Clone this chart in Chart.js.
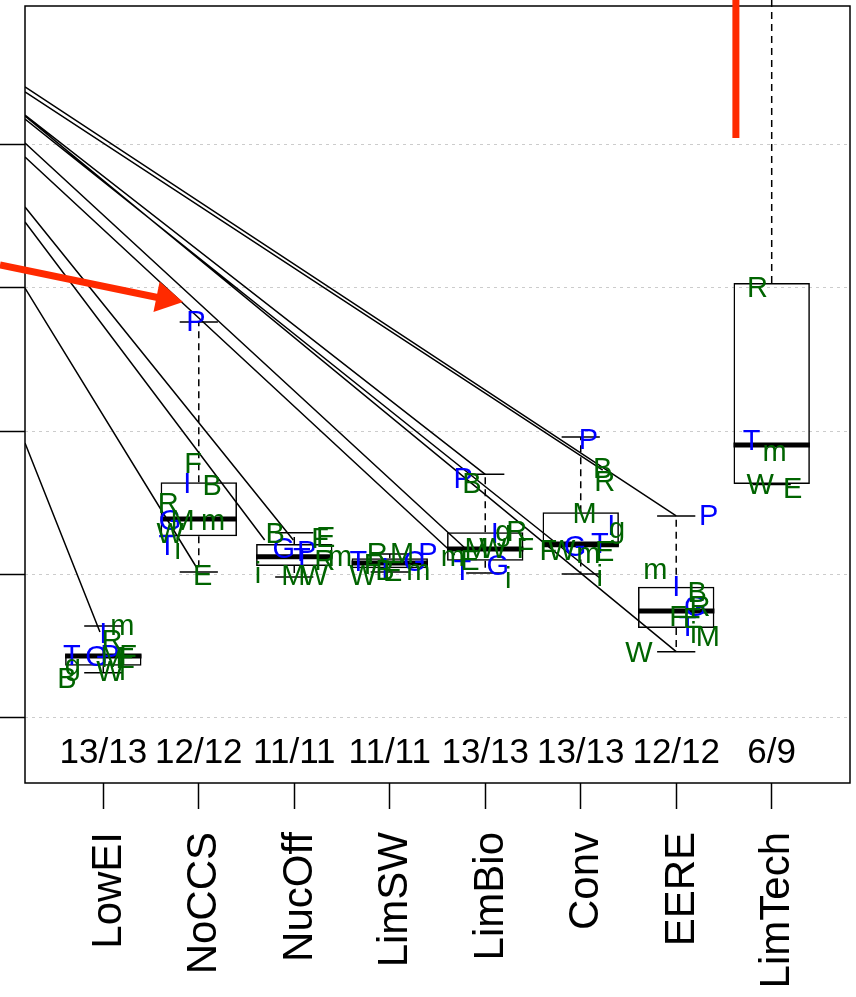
<!DOCTYPE html>
<html><head><meta charset="utf-8">
<script src="https://cdn.jsdelivr.net/npm/chart.js@4/dist/chart.umd.min.js"></script>
<style>html,body{margin:0;padding:0;background:#fff}#wrap{width:856px;height:997px;position:relative}</style>
</head><body><div id="wrap"><canvas id="c" width="856" height="997"></canvas></div>
<script>
// ---------- data ----------
const categories = ['LowEI','NoCCS','NucOff','LimSW','LimBio','Conv','EERE','LimTech'];
const counts = ['13/13','12/12','11/11','11/11','13/13','13/13','12/12','6/9'];
const gridValues = [0, 10, 20, 30, 40];
const lowerWhisker = [3.10, 10.14, 9.79, 10.14, 10.07, 10.00, 4.57, 16.26];
const q1 =           [3.59, 12.64, 10.56, 10.40, 10.93, 11.85, 6.22, 16.29];
const medians =      [4.27, 13.85, 11.21, 10.77, 11.75, 12.10, 7.41, 19.02];
const q3 =           [4.38, 16.41, 12.10, 11.10, 12.92, 14.31, 9.11, 30.35];
const upperWhisker = [6.36, 27.62, 12.89, 11.40, 16.97, 19.58, 14.06, 52.0];

// model letters: [char, category index (1-based), offset from category, value, blue?]
const modelLetters = [
  ['m',1,0.20,6.29,0],['I',1,0.00,5.73,1],['R',1,0.09,5.24,0],['T',1,-0.33,4.20,1],['G',1,-0.07,4.13,1],
  ['P',1,0.07,4.20,1],['F',1,0.26,4.20,0],['E',1,0.23,3.99,0],['M',1,0.10,4.06,0],['W',1,0.07,3.08,0],
  ['i',1,0.20,3.15,0],['B',1,-0.38,2.59,0],['g',1,-0.32,3.50,0],
  ['P',2,-0.03,27.55,1],['F',2,-0.06,17.62,0],['I',2,-0.12,16.22,1],['B',2,0.14,16.08,0],['R',2,-0.32,14.83,0],
  ['G',2,-0.30,13.64,1],['M',2,-0.17,13.64,0],['m',2,0.15,13.64,0],['W',2,-0.30,12.73,0],['T',2,-0.33,11.89,1],
  ['i',2,-0.22,11.61,0],['E',2,0.04,9.79,0],
  ['B',3,-0.20,12.73,0],['G',3,-0.11,11.68,1],['P',3,0.13,11.47,1],['T',3,0.08,10.98,1],['F',3,0.27,12.38,0],
  ['E',3,0.33,12.45,0],['R',3,0.32,10.84,0],['m',3,0.48,11.12,0],['i',3,-0.38,9.93,0],['M',3,-0.01,9.79,0],
  ['W',3,0.21,9.79,0],
  ['T',4,-0.33,10.77,1],['W',4,-0.28,9.79,0],['R',4,-0.13,11.33,0],['B',4,-0.05,10.14,0],['I',4,-0.05,10.28,1],
  ['E',4,0.03,10.07,0],['M',4,0.13,11.33,0],['G',4,0.26,10.77,1],['P',4,0.40,11.33,1],['m',4,0.30,10.14,0],
  ['F',4,-0.18,10.56,0],
  ['P',5,-0.23,16.57,1],['B',5,-0.14,16.22,0],['I',5,0.10,12.73,1],['g',5,0.19,12.87,0],['R',5,0.33,12.87,0],
  ['M',5,-0.09,11.68,0],['W',5,0.08,11.68,0],['F',5,0.42,11.68,0],['m',5,-0.34,11.12,0],['E',5,-0.16,10.84,0],
  ['T',5,-0.24,10.14,1],['G',5,0.13,10.49,1],['i',5,0.24,9.58,0],
  ['P',6,0.08,19.30,1],['B',6,0.23,17.27,0],['R',6,0.25,16.36,0],['M',6,0.04,14.13,0],['I',6,0.32,13.29,1],
  ['g',6,0.38,13.08,0],['F',6,-0.34,11.54,0],['W',6,-0.20,11.54,0],['G',6,-0.06,11.82,1],['m',6,0.08,11.33,0],
  ['T',6,0.20,12.03,1],['E',6,0.25,11.47,0],['i',6,0.20,9.72,0],
  ['P',7,0.34,13.99,1],['m',7,-0.22,10.21,0],['I',7,0.00,9.02,1],['B',7,0.22,8.60,0],['G',7,0.20,7.62,1],
  ['R',7,0.25,7.62,0],['F',7,0.02,6.92,0],['E',7,0.17,6.78,0],['T',7,0.12,6.22,1],['i',7,0.18,5.73,0],
  ['M',7,0.33,5.52,0],['W',7,-0.39,4.41,0],
  ['R',8,-0.15,29.93,0],['T',8,-0.21,19.23,1],['m',8,0.03,18.46,0],['W',8,-0.12,16.15,0],['E',8,0.22,15.87,0]
];

// connector lines coming in from the previous panel (value at the left edge -> end point)
const connStartY = [44.06, 43.71, 42.03, 41.82, 42.10, 40.14, 39.16, 35.66, 34.62, 29.99, 19.16];
const connEndX   = [7.00, 6.23, 7.00, 6.20, 5.00, 4.81, 4.68, 2.99, 2.69, 1.98, 0.965];
const connEndY   = [14.06, 17.27, 4.57, 9.72, 16.97, 11.68, 11.33, 12.38, 12.38, 10.42, 5.94];

// red annotations
const arrowShaft = [{x:-0.082, y:31.61}, {x:1.594, y:29.30}];
const arrowHead = [{x:1.650, y:29.27}];
const markerLine = [{x:7.625, y:52}, {x:7.625, y:40.49}];

// ---------- build ----------
const X_MIN = 0.18, X_MAX = 8.82, Y_MIN = -4.615, Y_MAX = 49.72, COUNT_Y = -3.22;
const FONT = '"Liberation Sans", Arial, Helvetica, sans-serif';
const RED = '#ff2a00';

const boxData = categories.map((c,i)=>({x:i+1, y:[q1[i], q3[i]]}));
const medData = [], whiskData = [], capData = [];
categories.forEach((c,i)=>{
  const x = i+1;
  medData.push({x:x-0.4,y:medians[i]},{x:x+0.4,y:medians[i]},{x:x,y:null});
  whiskData.push({x:x,y:q3[i]},{x:x,y:upperWhisker[i]},{x:x,y:null});
  whiskData.push({x:x,y:q1[i]},{x:x,y:lowerWhisker[i]},{x:x,y:null});
  capData.push({x:x-0.2,y:upperWhisker[i]},{x:x+0.2,y:upperWhisker[i]},{x:x,y:null});
  capData.push({x:x-0.2,y:lowerWhisker[i]},{x:x+0.2,y:lowerWhisker[i]},{x:x,y:null});
});
const connData = [];
connStartY.forEach((y0,i)=>{
  connData.push({x:X_MIN,y:y0},{x:connEndX[i],y:connEndY[i]},{x:connEndX[i],y:null});
});
const greenLetters = modelLetters.filter(l=>!l[4]).map(l=>({x:l[1]+l[2], y:l[3], t:l[0]}));
const blueLetters = modelLetters.filter(l=>l[4]).map(l=>({x:l[1]+l[2], y:l[3], t:l[0]}));

const lineBase = {type:'line', pointRadius:0, tension:0, spanGaps:false, fill:false};

const framePlugin = {
  id:'frame',
  beforeDatasetsDraw(chart){
    const a = chart.chartArea, ctx = chart.ctx;
    ctx.save(); ctx.strokeStyle='#000'; ctx.lineWidth=1.5;
    ctx.strokeRect(a.left, a.top, a.right-a.left, a.bottom-a.top);
    ctx.restore();
  }
};
const textPlugin = {
  id:'texts',
  afterDatasetsDraw(chart){
    const ctx = chart.ctx;
    chart.data.datasets.forEach((ds,di)=>{
      if(!ds.letterColor) return;
      const meta = chart.getDatasetMeta(di);
      ctx.save();
      ctx.font = '29px ' + FONT; ctx.textAlign='center'; ctx.textBaseline='middle';
      ctx.fillStyle = ds.letterColor;
      meta.data.forEach((el,i)=>ctx.fillText(ds.data[i].t, el.x, el.y));
      ctx.restore();
    });
    const xs = chart.scales.x, ys = chart.scales.y;
    ctx.save();
    ctx.font = '35px ' + FONT; ctx.textAlign='center'; ctx.textBaseline='alphabetic'; ctx.fillStyle='#000';
    counts.forEach((t,i)=>ctx.fillText(t, xs.getPixelForValue(i+1), ys.getPixelForValue(COUNT_Y)));
    ctx.restore();
  }
};

new Chart(document.getElementById('c'), {
  type:'bar',
  data:{datasets:[
    {...lineBase, data:markerLine, borderColor:RED, borderWidth:7, clip:false, order:0},
    {type:'scatter', data:arrowHead, pointStyle:'triangle', pointRadius:18, pointRotation:101.4,
      pointBackgroundColor:RED, pointBorderWidth:0, clip:false, order:0},
    {...lineBase, data:arrowShaft, borderColor:RED, borderWidth:7, clip:false, order:1},
    {type:'scatter', data:blueLetters, pointRadius:0, letterColor:'#0000ff', order:2},
    {type:'scatter', data:greenLetters, pointRadius:0, letterColor:'#006400', order:3},
    {...lineBase, data:medData, borderColor:'#000', borderWidth:5, order:4},
    {...lineBase, data:capData, borderColor:'#000', borderWidth:1.5, order:5},
    {...lineBase, data:whiskData, borderColor:'#000', borderWidth:1.5, borderDash:[7,5], clip:false, order:6},
    {...lineBase, data:connData, borderColor:'#000', borderWidth:1.5, order:7},
    {type:'bar', data:boxData, backgroundColor:'rgba(0,0,0,0)', borderColor:'#000', borderWidth:1.5,
      borderSkipped:false, categoryPercentage:1, barPercentage:0.8, order:8}
  ]},
  options:{
    responsive:false, animation:false, devicePixelRatio:1,
    layout:{autoPadding:false, padding:{left:0, top:6, right:6, bottom:0}},
    plugins:{legend:{display:false}, tooltip:{enabled:false}},
    scales:{
      x:{type:'linear', min:X_MIN, max:X_MAX, offset:false,
        afterBuildTicks:s=>{ s.ticks = categories.map((c,i)=>({value:i+1})); },
        afterFit:s=>{ s.height = 214; s.paddingLeft = 0; s.paddingRight = 0; },
        ticks:{callback:v=>categories[Math.round(v)-1] || '', minRotation:90, maxRotation:90, autoSkip:false,
          padding:23, labelOffset:6, color:'#000', font:{family:FONT, size:42}},
        grid:{offset:false, drawOnChartArea:false, drawTicks:true, tickLength:26, tickColor:'#000', tickWidth:1.5},
        border:{display:false}
      },
      y:{type:'linear', min:Y_MIN, max:Y_MAX,
        afterBuildTicks:s=>{ s.ticks = gridValues.map(v=>({value:v})); },
        afterFit:s=>{ s.width = 25; s.paddingTop = 0; s.paddingBottom = 0; },
        ticks:{display:false},
        grid:{color:'#cccccc', lineWidth:1, drawTicks:true, tickLength:25, tickColor:'#000', tickWidth:1.5, tickBorderDash:[]},
        border:{display:false, dash:[3,4]}
      }
    }
  },
  plugins:[framePlugin, textPlugin]
});
</script></body></html>
